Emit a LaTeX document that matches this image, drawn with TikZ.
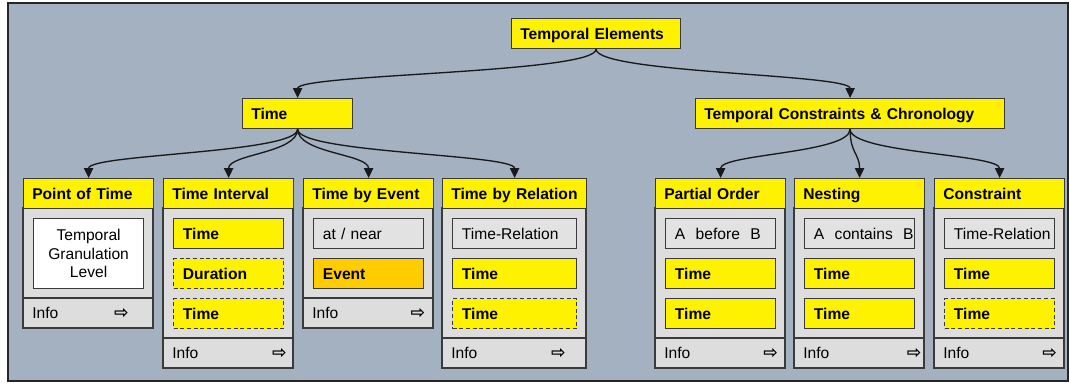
\documentclass[tikz,border=0pt]{standalone}
\usepackage{fontspec}
\setmainfont{Liberation Sans}
\newfontfamily\symfont{DejaVu Sans}
\usetikzlibrary{arrows.meta}

\definecolor{bgblue}{HTML}{A3B1C0}
\definecolor{panelgray}{HTML}{DDDDDD}
\definecolor{slotgray}{HTML}{E2E2E2}
\definecolor{evorange}{HTML}{FFCC00}
\definecolor{rimgray}{HTML}{3A3A3A}
\newcommand\ffont{\fontsize{11.7}{14}\selectfont}

\tikzset{
  base/.style={draw=rimgray, line width=0.9pt, anchor=north west, inner xsep=7pt, inner ysep=0pt,
    minimum height=22.5pt, align=left, font=\ffont, text height=8.4pt, text depth=0pt},
  head/.style={base, fill=yellow, inner xsep=6.5pt, font=\ffont\bfseries},
  slot/.style={base, fill=slotgray, text width=68.5pt},
  yel/.style={slot, fill=yellow, font=\ffont\bfseries},
  opt/.style={yel, dash pattern=on 3pt off 2pt},
  evt/.style={yel, fill=evorange},
  wide/.style={text width=79pt},
  body/.style={draw=rimgray, line width=0.9pt, fill=panelgray},
  info/.style={anchor=west, inner sep=0pt, font=\ffont, text height=8.4pt, text depth=0pt},
  go/.style={anchor=center, inner sep=0pt, font=\symfont\bfseries\fontsize{13}{14}\selectfont},
  link/.style={draw=black!90, line width=1pt, -{Triangle[length=7.5pt,width=7pt]},
    out=-90, in=90, distance=18pt}
}

% #1 名前 #2 左端x #3 幅 #4 下端y #5 見出し #6 矢印x
\newcommand\panel[6]{%
  \pgfmathsetmacro\tw{#3*0.75-13}
  \draw[body] (#2,208) rectangle (#2+#3,#4); % 本体
  \draw[body] (#2,#4-30) -- (#2+#3,#4-30); % Info 行の区切り
  \node[head, text width=\tw pt] (#1) at (#2,178) {#5}; % 見出し
  \node[info] (#1-info) at (#2+9,#4-15) {Info};
  \node[go] (#1-go) at (#6,#4-15) {⇨};
}

\begin{document}
\begin{tikzpicture}[x=0.75pt,y=-0.75pt]
  \useasboundingbox (0,0) rectangle (1069,383);
  \draw[fill=bgblue, draw=black!85, line width=0.9pt] (8,3) rectangle (1068,381); % 背景

  \node[head, text width=113.75pt] (elem) at (511,18) {Temporal Elements};
  \node[head, text width=69.5pt] (time) at (242,98) {Time};
  \node[head, text width=218.75pt] (tcc) at (695,98) {Temporal Constraints \& Chronology};

  \panel{pot}{23}{130}{328}{Point of Time}{121.5}
  \panel{ti}{163}{130}{368}{Time Interval}{279.5}
  \panel{tbe}{303}{130}{328}{Time by Event}{418}
  \panel{tbr}{442}{144}{368}{Time by Relation}{558.5}
  \panel{po}{655}{130}{368}{Partial Order}{770.5}
  \panel{nest}{794}{130}{368}{Nesting}{914}
  \panel{con}{934}{130}{368}{Constraint}{1049.5}

  \node[slot, fill=white, minimum height=52.5pt, align=center, text height=, text depth=] (gran) at (33,218) {Temporal\\Granulation\\Level};

  \node[yel] (ti-a) at (173,218) {Time};
  \node[opt] (ti-b) at (173,258) {Duration};
  \node[opt] (ti-c) at (173,298) {Time};

  \node[slot] (tbe-a) at (313,218) {at / near};
  \node[evt] (tbe-b) at (313,258) {Event};

  \node[slot, wide] (tbr-a) at (452,218) {\mbox{Time-Relation}};
  \node[yel, wide] (tbr-b) at (452,258) {Time};
  \node[opt, wide] (tbr-c) at (452,298) {Time};

  \node[slot] (po-a) at (665,218) {A~~before~~B};
  \node[yel] (po-b) at (665,258) {Time};
  \node[yel] (po-c) at (665,298) {Time};

  \node[slot] (nest-a) at (804,218) {\mbox{A~~contains~~B}};
  \node[yel] (nest-b) at (804,258) {Time};
  \node[yel] (nest-c) at (804,298) {Time};

  \node[slot] (con-a) at (944,218) {\mbox{Time-Relation}};
  \node[yel] (con-b) at (944,258) {Time};
  \node[opt] (con-c) at (944,298) {Time};

  \draw[link] (elem.south) to (time.north); % 上段から左
  \draw[link] (elem.south) to (tcc.north); % 上段から右
  \draw[link] (time.south) to (pot.north);
  \draw[link] (time.south) to (ti.north);
  \draw[link] (time.south) to (tbe.north);
  \draw[link] (time.south) to (tbr.north);
  \draw[link] (tcc.south) to (po.north);
  \draw[link] (tcc.south) to (nest.north);
  \draw[link] (tcc.south) to (con.north);
\end{tikzpicture}
\end{document}
